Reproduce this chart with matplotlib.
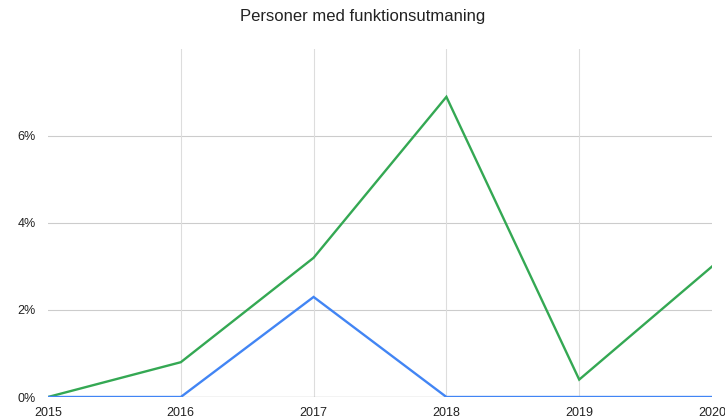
import matplotlib
matplotlib.use("Agg")
import matplotlib.pyplot as plt
from matplotlib.ticker import FuncFormatter

plt.rcParams['font.family'] = ['Liberation Sans', 'DejaVu Sans']

years = [2015, 2016, 2017, 2018, 2019, 2020]
green_vals = [0.0, 0.8, 3.2, 6.9, 0.4, 3.0]
blue_vals = [0.0, 0.0, 2.3, 0.0, 0.0, 0.0]
y_ticks = [0, 2, 4, 6]

fig = plt.figure(figsize=(7.25, 4.2), dpi=100)
ax = fig.add_axes([48 / 725, 23 / 420, 664 / 725, 348 / 420])

ax.plot(years, green_vals, color='#34a853', lw=1.7, solid_joinstyle='miter', zorder=3)
ax.plot(years, blue_vals, color='#4285f4', lw=1.7, solid_joinstyle='miter', zorder=4)

ax.set_xlim(years[0], years[-1])
ax.set_ylim(0, 8)
ax.set_xticks(years)
ax.set_yticks(y_ticks)
ax.yaxis.set_major_formatter(FuncFormatter(lambda v, _: f"{v:.0f}%"))

# light grid, dark baseline
for y in y_ticks[1:]:
    ax.axhline(y, color='#cccccc', lw=0.8, zorder=1)
for x in years[1:-1]:
    ax.axvline(x, color='#dddddd', lw=0.8, zorder=1)
ax.axhline(0, color='#333333', lw=0.8, zorder=2)

for s in ax.spines.values():
    s.set_visible(False)
ax.tick_params(length=0, labelsize=9, colors='#222222')
ax.tick_params(axis='y', pad=9)
ax.tick_params(axis='x', pad=7)
ax.patch.set_alpha(0)

fig.text(0.5, 1 - 17 / 420, "Personer med funktionsutmaning", ha='center', va='center',
         fontsize=12, color='#222222')

fig.savefig("out.png", dpi=100)
